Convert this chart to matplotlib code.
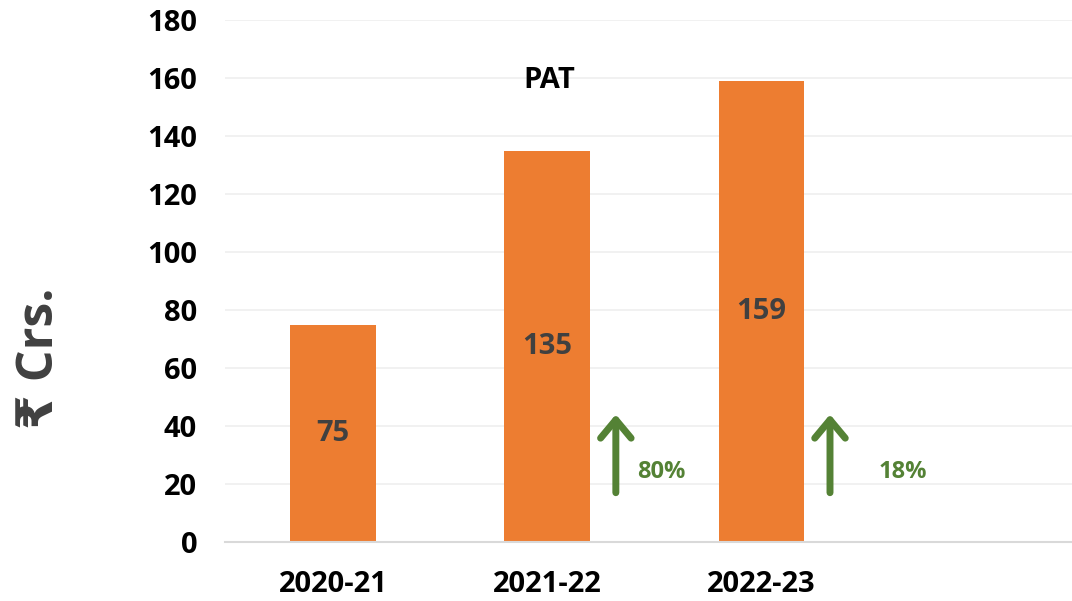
import matplotlib.pyplot as plt

# data
years = ['2020-21', '2021-22', '2022-23']
pat = [75, 135, 159]
growth = ['', '80%', '18%']

plt.rcParams['font.family'] = ['Open Sans', 'DejaVu Sans']

fig = plt.figure(figsize=(10.72, 6.01), dpi=100)
ax = fig.add_axes([225 / 1072, 1 - 542 / 601, 1 - 225 / 1072, (542 - 20) / 601])

x = list(range(len(years)))
ax.bar(x, pat, width=0.40, color='#ED7D31', zorder=2)

for i, v in enumerate(pat):
    ax.text(i, v / 2, str(v), ha='center', va='center', fontsize=21,
            fontweight='bold', color='#404040', zorder=3)

# growth arrows
green = '#548235'
for i, g in enumerate(growth):
    if not g:
        continue
    ax.annotate('', xy=(i - 1 + 1.32, 44), xytext=(i - 1 + 1.32, 17),
                arrowprops=dict(arrowstyle='->,head_length=0.6,head_width=0.5',
                                color=green, lw=5, capstyle='round',
                                joinstyle='round', shrinkA=0, shrinkB=0,
                                mutation_scale=22),
                zorder=3)
    ax.text(i - 1 + 1.53 + (0.13 if i == 2 else 0), 24, g, ha='center',
            va='center', fontsize=17, fontweight='bold', color=green, zorder=3)

ax.text(1.01, 159, 'PAT', ha='center', va='center', fontsize=21,
        fontweight='bold', color='black', zorder=3)

ax.set_xlim(-0.505, 3.45)
ax.set_ylim(0, 180)
ax.set_yticks(range(0, 181, 20))
ax.set_xticks(x)
ax.set_xticklabels(years)
ax.yaxis.grid(True, color='#EFEFEF', lw=1.2, zorder=0)
ax.set_axisbelow(True)
for s in ['top', 'right', 'left']:
    ax.spines[s].set_visible(False)
ax.spines['bottom'].set_color('#D9D9D9')
ax.spines['bottom'].set_linewidth(1.5)
ax.tick_params(axis='both', length=0, labelsize=21)
ax.tick_params(axis='y', pad=20)
ax.tick_params(axis='x', pad=20)
for lab in ax.get_xticklabels() + ax.get_yticklabels():
    lab.set_fontweight('bold')
    lab.set_color('black')

fig.text(40 / 1072, 1 - 358 / 601, '₹ Crs.', rotation=90, ha='center',
         va='center', fontsize=36, fontweight='bold', color='#404040')

fig.savefig('out.png', dpi=100, facecolor='white')
